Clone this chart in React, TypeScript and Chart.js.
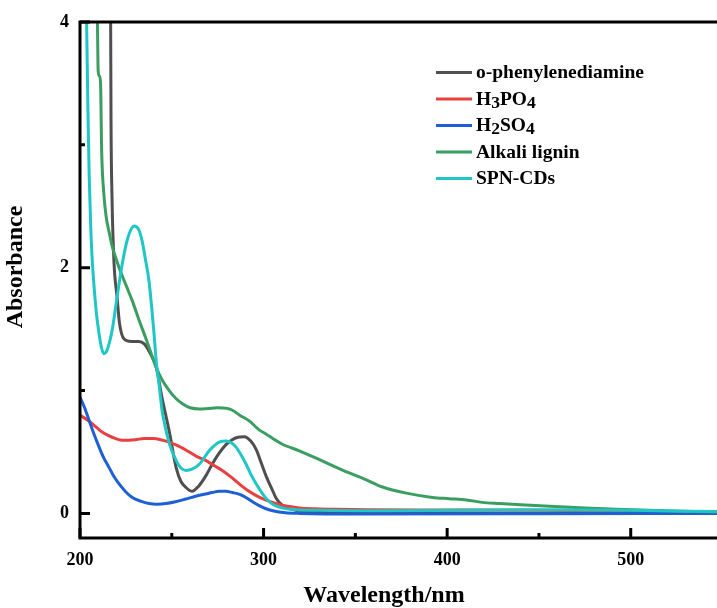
import React, { useEffect, useRef } from "react";
import { Chart, registerables } from "chart.js";

Chart.register(...registerables);

// ---- axes ----
const X_MIN = 200;
const X_MAX = 547;
const Y_MIN = -0.2;
const Y_MAX = 4;
const xTicks = [200, 300, 400, 500];
const xMinorTicks = [250, 350, 450];
const yTicks = [0, 2, 4];
const yMinorTicks = [1, 3];
const xTitle = "Wavelength/nm";
const yTitle = "Absorbance";

// ---- series ----
const seriesLabels = ["o-phenylenediamine", "H3PO4", "H2SO4", "Alkali lignin", "SPN-CDs"];
const seriesColors = ["#4f4f4f", "#e8403f", "#1f5fd6", "#3a9e60", "#1ec6c6"];

const opdWl = [216.6, 216.9, 217.4, 218.5, 220.2, 221.5, 224, 228, 232, 235, 237.6, 241.5, 244.7, 248.6, 252.4, 255, 257.8, 261.1, 264.5, 268.7, 272, 275.8, 279.5, 282.9, 286, 289.5, 293, 296, 299, 301.5, 304.5, 307, 310, 315, 322, 335, 360, 400, 450, 500, 547];
const opdAbs = [4.4, 3.2, 2.6, 2.05, 1.76, 1.55, 1.42, 1.40, 1.40, 1.38, 1.32, 1.19, 0.94, 0.67, 0.37, 0.26, 0.21, 0.18, 0.22, 0.31, 0.40, 0.49, 0.56, 0.60, 0.62, 0.625, 0.59, 0.52, 0.40, 0.30, 0.20, 0.12, 0.07, 0.035, 0.015, 0.008, 0.005, 0.003, 0.002, 0.0, 0.0];

const h3po4Wl = [200, 205, 209, 212.2, 217.5, 223, 230, 235, 240, 244, 248.6, 254, 259.5, 264, 268.7, 273, 277.5, 282, 286.7, 291, 296, 301, 307, 313, 319.5, 328, 340, 360, 400, 450, 500, 520, 547];
const h3po4Abs = [0.80, 0.75, 0.70, 0.66, 0.62, 0.595, 0.60, 0.61, 0.61, 0.60, 0.58, 0.545, 0.50, 0.46, 0.43, 0.39, 0.35, 0.30, 0.24, 0.19, 0.145, 0.11, 0.08, 0.058, 0.045, 0.038, 0.033, 0.03, 0.028, 0.025, 0.02, 0.01, 0.005];

const h2so4Wl = [200, 202.5, 205, 207.5, 210.4, 213, 215.8, 218.5, 221.3, 225, 228.5, 233, 237.6, 242, 246.7, 252, 257.6, 263, 268.5, 272, 275.8, 279.5, 283, 287, 290.4, 294, 297.6, 301, 305, 312, 320, 350, 450, 547];
const h2so4Abs = [0.945, 0.86, 0.755, 0.65, 0.54, 0.45, 0.375, 0.30, 0.24, 0.175, 0.13, 0.10, 0.08, 0.075, 0.08, 0.095, 0.117, 0.14, 0.158, 0.17, 0.18, 0.18, 0.17, 0.155, 0.13, 0.095, 0.063, 0.04, 0.022, 0.005, 0.0, -0.005, -0.003, 0.0];

const ligninWl = [209.2, 209.5, 209.9, 210.6, 211.2, 211.8, 213, 214.2, 216, 217.6, 219.5, 221.3, 225, 228.5, 232, 236, 241.5, 245, 248.6, 252, 256, 260, 265, 270, 275, 280, 283, 287, 292, 297.6, 301.5, 305, 310, 319.5, 328.7, 337.5, 346.7, 355, 364.8, 377.8, 392, 401, 410.6, 419, 428.6, 440, 456, 475, 492, 510, 528, 547];
const ligninAbs = [4.3, 4.0, 3.6, 3.56, 3.5, 2.95, 2.6, 2.42, 2.28, 2.17, 2.08, 2.0, 1.86, 1.73, 1.58, 1.42, 1.19, 1.08, 1.0, 0.94, 0.89, 0.86, 0.85, 0.855, 0.86, 0.855, 0.84, 0.80, 0.755, 0.68, 0.645, 0.61, 0.565, 0.51, 0.45, 0.39, 0.33, 0.28, 0.215, 0.165, 0.13, 0.12, 0.11, 0.09, 0.08, 0.07, 0.058, 0.045, 0.035, 0.025, 0.018, 0.012];

const spnWl = [203.3, 203.6, 204.3, 205, 205.8, 206.6, 207.6, 209, 210.4, 211.7, 213, 214.5, 216, 217.5, 220, 223, 226, 229.5, 232, 233.8, 235.5, 237.6, 240.4, 241.5, 243, 244.7, 246.5, 248.6, 252.4, 255, 257.8, 261, 265, 270.4, 275.8, 279.6, 282.5, 285, 288, 290.5, 293, 296, 299, 301.5, 305, 310, 318, 330, 360, 400, 450, 500, 547];
const spnAbs = [4.4, 4.0, 3.3, 2.75, 2.35, 2.08, 1.86, 1.62, 1.46, 1.35, 1.30, 1.32, 1.39, 1.49, 1.74, 2.03, 2.24, 2.34, 2.31, 2.22, 2.08, 1.89, 1.45, 1.24, 1.06, 0.84, 0.70, 0.57, 0.43, 0.37, 0.35, 0.36, 0.40, 0.51, 0.58, 0.59, 0.575, 0.54, 0.47, 0.40, 0.32, 0.24, 0.17, 0.12, 0.075, 0.045, 0.03, 0.025, 0.022, 0.025, 0.03, 0.025, 0.015];

const seriesWl = [opdWl, h3po4Wl, h2so4Wl, ligninWl, spnWl];
const seriesAbs = [opdAbs, h3po4Abs, h2so4Abs, ligninAbs, spnAbs];

const FONT = "'Liberation Serif', 'Times New Roman', serif";

function drawLabelWithSubscripts(ctx: CanvasRenderingContext2D, text: string, x: number, y: number, size: number) {
  let cx = x;
  for (const ch of text) {
    const isDigit = ch >= "0" && ch <= "9";
    ctx.font = `bold ${isDigit ? size * 0.9 : size}px ${FONT}`;
    ctx.fillText(ch, cx, isDigit ? y + 3 : y);
    cx += ctx.measureText(ch).width;
  }
}

const framePlugin = {
  id: "frame",
  afterDatasetsDraw(chart: any) {
    const { ctx, chartArea: a, scales } = chart;
    const xs = scales.x;
    const ys = scales.y;
    ctx.save();
    ctx.strokeStyle = "#000";
    ctx.lineWidth = 3;
    ctx.lineCap = "butt";
    ctx.beginPath();
    ctx.moveTo(a.left, a.top - 1.5);
    ctx.lineTo(a.left, a.bottom + 1.5);
    ctx.moveTo(a.left - 1.5, a.bottom);
    ctx.lineTo(a.right, a.bottom);
    ctx.moveTo(a.left - 1.5, a.top);
    ctx.lineTo(a.right, a.top);
    ctx.stroke();
    ctx.lineWidth = 3;
    ctx.beginPath();
    for (const v of xTicks) {
      const p = xs.getPixelForValue(v);
      ctx.moveTo(p, a.bottom);
      ctx.lineTo(p, a.bottom - 10);
    }
    for (const v of xMinorTicks) {
      const p = xs.getPixelForValue(v);
      ctx.moveTo(p, a.bottom);
      ctx.lineTo(p, a.bottom - 5);
    }
    for (const v of yTicks) {
      const p = ys.getPixelForValue(v);
      ctx.moveTo(a.left, p);
      ctx.lineTo(a.left + 10, p);
    }
    for (const v of yMinorTicks) {
      const p = ys.getPixelForValue(v);
      ctx.moveTo(a.left, p);
      ctx.lineTo(a.left + 5, p);
    }
    ctx.stroke();
    ctx.restore();
  },
  afterDraw(chart: any) {
    const { ctx } = chart;
    ctx.save();
    ctx.fillStyle = "#000";
    // axis titles
    ctx.font = `bold 24px ${FONT}`;
    ctx.textAlign = "center";
    ctx.textBaseline = "alphabetic";
    ctx.fillText(xTitle, 384, 602);
    ctx.save();
    ctx.translate(22, 267);
    ctx.rotate(-Math.PI / 2);
    ctx.fillText(yTitle, 0, 0);
    ctx.restore();
    // legend
    ctx.textAlign = "left";
    chart.data.datasets.forEach((ds: any, i: number) => {
      const base = 78 + i * 26.5;
      const ly = base - 5.5;
      ctx.strokeStyle = ds.borderColor;
      ctx.lineWidth = 3;
      ctx.beginPath();
      ctx.moveTo(436, ly);
      ctx.lineTo(472, ly);
      ctx.stroke();
      drawLabelWithSubscripts(ctx, ds.label, 476, base, 19.5);
    });
    ctx.restore();
  },
};

export default function App() {
  const ref = useRef<HTMLCanvasElement>(null);
  useEffect(() => {
    const datasets = seriesLabels.map((label, i) => ({
      label,
      data: seriesWl[i].map((x, j) => ({ x, y: seriesAbs[i][j] })),
      borderColor: seriesColors[i],
      backgroundColor: seriesColors[i],
      borderWidth: 3,
      pointRadius: 0,
      fill: false,
      cubicInterpolationMode: "monotone" as const,
      order: seriesLabels.length - i,
    }));
    const tickFont = { family: FONT, size: 18, weight: "bold" as const };
    const chart = new Chart(ref.current!, {
      type: "line",
      data: { datasets },
      options: {
        responsive: false,
        animation: false,
        devicePixelRatio: 1,
        layout: { padding: { top: 22, right: 0, bottom: 0, left: 0 } },
        plugins: { legend: { display: false }, tooltip: { enabled: false } },
        scales: {
          x: {
            type: "linear",
            min: X_MIN,
            max: X_MAX,
            grid: { display: false, drawTicks: false },
            border: { display: false },
            ticks: { font: tickFont, color: "#000", padding: 12, maxRotation: 0, autoSkip: false },
            afterBuildTicks: (s: any) => {
              s.ticks = xTicks.map((v) => ({ value: v }));
            },
            afterFit: (s: any) => {
              s.height = 70;
            },
          },
          y: {
            type: "linear",
            min: Y_MIN,
            max: Y_MAX,
            grid: { display: false, drawTicks: false },
            border: { display: false },
            ticks: { font: tickFont, color: "#000", padding: 11, autoSkip: false },
            afterBuildTicks: (s: any) => {
              s.ticks = yTicks.map((v) => ({ value: v }));
            },
            afterFit: (s: any) => {
              s.width = 80;
            },
          },
        },
      },
      plugins: [framePlugin],
    });
    return () => chart.destroy();
  }, []);
  return (
    <div style={{ position: "fixed", left: 0, top: 0, width: 717, height: 608, background: "#fff" }}>
      <canvas ref={ref} width={717} height={608} style={{ display: "block" }} />
    </div>
  );
}
